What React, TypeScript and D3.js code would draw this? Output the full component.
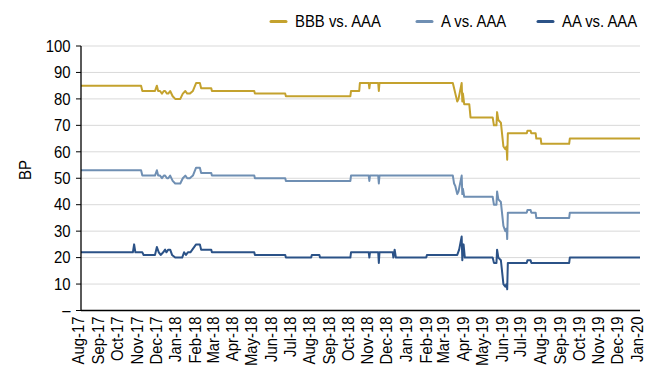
import React from "react";
import * as d3 from "d3";

const monthLabels = ["Aug-17","Sep-17","Oct-17","Nov-17","Dec-17","Jan-18","Feb-18","Mar-18","Apr-18","May-18","Jun-18","Jul-18","Aug-18","Sep-18","Oct-18","Nov-18","Dec-18","Jan-19","Feb-19","Mar-19","Apr-19","May-19","Jun-19","Jul-19","Aug-19","Sep-19","Oct-19","Nov-19","Dec-19","Jan-20"];
const monthStarts = ["2017-08-01","2017-09-01","2017-10-01","2017-11-01","2017-12-01","2018-01-01","2018-02-01","2018-03-01","2018-04-01","2018-05-01","2018-06-01","2018-07-01","2018-08-01","2018-09-01","2018-10-01","2018-11-01","2018-12-01","2019-01-01","2019-02-01","2019-03-01","2019-04-01","2019-05-01","2019-06-01","2019-07-01","2019-08-01","2019-09-01","2019-10-01","2019-11-01","2019-12-01","2020-01-01"];
const yTicks = [0,10,20,30,40,50,60,70,80,90,100];
const seriesNames = ["BBB vs. AAA","A vs. AAA","AA vs. AAA"];
const seriesColors = ["#C4A22E","#6F8FB3","#2B5287"];

const bbb: [string, number][] = [
["2017-08-01",85],["2017-11-04",85],["2017-11-06",83],["2017-11-26",83],["2017-11-29",85],["2017-12-01",83],["2017-12-04",83],["2017-12-07",82],["2017-12-10",83],["2017-12-12",83],["2017-12-15",82],["2017-12-17",82],["2017-12-20",83],["2017-12-24",81],["2017-12-28",80],["2018-01-05",80],["2018-01-09",82],["2018-01-13",83],["2018-01-16",82],["2018-01-20",82],["2018-01-25",83],["2018-01-30",86],["2018-02-05",86],["2018-02-07",84],["2018-02-23",84],["2018-02-24",83],["2018-05-02",83],["2018-05-03",82],["2018-06-20",82],["2018-06-21",81],["2018-10-01",81],["2018-10-02",83],["2018-10-15",83],["2018-10-16",86],["2018-10-30",86],["2018-10-31",84],["2018-11-01",86],["2018-11-14",86],["2018-11-15",83],["2018-11-16",86],["2019-03-12",86],["2019-03-14",84],["2019-03-16",82],["2019-03-19",79],["2019-03-21",80],["2019-03-26",86],["2019-03-27",79],["2019-03-28",82],["2019-03-30",78],["2019-04-07",78],["2019-04-09",73],["2019-05-14",73],["2019-05-16",70],["2019-05-20",70],["2019-05-21",75],["2019-05-23",72],["2019-05-27",71],["2019-05-31",62],["2019-06-03",61],["2019-06-05",62],["2019-06-06",57],["2019-06-07",67],["2019-07-07",67],["2019-07-08",68],["2019-07-13",68],["2019-07-14",67],["2019-07-21",67],["2019-07-22",65],["2019-07-29",65],["2019-07-30",63],["2019-09-12",63],["2019-09-13",65],["2020-01-02",65]
];

const aSeries: [string, number][] = [
["2017-08-01",53],["2017-11-04",53],["2017-11-06",51],["2017-11-26",51],["2017-11-29",53],["2017-12-01",51],["2017-12-04",51],["2017-12-07",50],["2017-12-10",51],["2017-12-12",51],["2017-12-15",50],["2017-12-17",50],["2017-12-20",51],["2017-12-24",49],["2017-12-28",48],["2018-01-05",48],["2018-01-09",50],["2018-01-13",51],["2018-01-16",50],["2018-01-20",50],["2018-01-25",51],["2018-01-30",54],["2018-02-05",54],["2018-02-07",52],["2018-02-23",52],["2018-02-24",51],["2018-05-02",51],["2018-05-03",50],["2018-06-20",50],["2018-06-21",49],["2018-10-01",49],["2018-10-02",51],["2018-10-30",51],["2018-10-31",49],["2018-11-01",51],["2018-11-14",51],["2018-11-15",48],["2018-11-16",51],["2019-03-12",51],["2019-03-14",48],["2019-03-16",47],["2019-03-19",44],["2019-03-21",45],["2019-03-26",51],["2019-03-27",44],["2019-03-28",46],["2019-03-30",43],["2019-05-14",43],["2019-05-16",40],["2019-05-20",40],["2019-05-21",45],["2019-05-23",42],["2019-05-27",41],["2019-05-31",32],["2019-06-03",30],["2019-06-05",31],["2019-06-06",27],["2019-06-07",37],["2019-07-07",37],["2019-07-08",38],["2019-07-13",38],["2019-07-14",37],["2019-07-21",37],["2019-07-22",35],["2019-09-12",35],["2019-09-13",37],["2020-01-02",37]
];

const aaSeries: [string, number][] = [
["2017-08-01",22],["2017-10-22",22],["2017-10-24",25],["2017-10-26",22],["2017-11-06",22],["2017-11-08",21],["2017-11-26",21],["2017-11-29",24],["2017-12-02",22],["2017-12-05",21],["2017-12-09",22],["2017-12-12",23],["2017-12-14",22],["2017-12-17",23],["2017-12-20",23],["2017-12-23",21],["2017-12-28",20],["2018-01-08",20],["2018-01-11",22],["2018-01-14",21],["2018-01-17",22],["2018-01-21",22],["2018-01-30",25],["2018-02-05",25],["2018-02-07",23],["2018-02-23",23],["2018-02-24",22],["2018-05-02",22],["2018-05-03",21],["2018-06-20",21],["2018-06-21",20],["2018-07-31",20],["2018-08-01",21],["2018-08-13",21],["2018-08-14",20],["2018-10-01",20],["2018-10-02",22],["2018-10-30",22],["2018-10-31",20],["2018-11-01",22],["2018-11-14",22],["2018-11-15",18],["2018-11-16",22],["2018-12-07",22],["2018-12-08",20],["2018-12-10",23],["2018-12-12",20],["2019-01-29",20],["2019-01-30",21],["2019-03-19",21],["2019-03-22",23],["2019-03-26",28],["2019-03-27",19],["2019-03-29",25],["2019-03-31",20],["2019-05-14",20],["2019-05-16",18],["2019-05-20",18],["2019-05-21",23],["2019-05-23",20],["2019-05-27",19],["2019-05-31",10],["2019-06-03",9],["2019-06-05",10],["2019-06-06",8],["2019-06-07",18],["2019-07-07",18],["2019-07-08",19],["2019-07-13",19],["2019-07-14",18],["2019-09-12",18],["2019-09-13",20],["2020-01-02",20]
];

const allSeries = [bbb, aSeries, aaSeries];

const FONT = "'Liberation Sans', Arial, Helvetica, sans-serif";
const FS = 16;
const SX = 0.93;

export default function App() {
  const parse = d3.timeParse("%Y-%m-%d");
  const left = 81, right = 640, top = 46, bottom = 310.5;
  const x = d3.scaleTime().domain([parse("2017-08-01")!, parse("2020-01-02")!]).range([left, right]);
  const y = d3.scaleLinear().domain([0, 100]).range([bottom, top]);
  const line = d3.line<[string, number]>()
    .x((d) => x(parse(d[0])!))
    .y((d) => y(d[1]));

  const legendX = [271, 417, 538];

  return (
    <svg width={657} height={367} style={{ position: "absolute", left: 0, top: 0, background: "#fff" }} fontFamily={FONT}>
      {yTicks.filter((t) => t > 0).map((t) => (
        <line key={"g" + t} x1={left} x2={right} y1={y(t)} y2={y(t)} stroke="#d9d9d9" strokeWidth={1} />
      ))}
      {yTicks.map((t) => (
        <g key={"t" + t}>
          <line x1={left - 5} x2={left} y1={y(t)} y2={y(t)} stroke="#000" strokeWidth={1} />
          <text transform={`translate(70.5,${y(t)}) scale(${SX},1)`} dy="0.36em" textAnchor="end" fontSize={FS} fill="#000">
            {t === 0 ? "–" : String(t)}
          </text>
        </g>
      ))}
      <text transform={`translate(25,170) rotate(-90) scale(${SX},1)`} textAnchor="middle" dy="0.36em" fontSize={FS} fill="#000">BP</text>
      {allSeries.map((s, i) => (
        <path key={"s" + i} d={line(s) || ""} fill="none" stroke={seriesColors[i]} strokeWidth={2} strokeLinejoin="round" />
      ))}
      <line x1={left} x2={left} y1={top} y2={bottom + 0.5} stroke="#000" strokeWidth={1.3} />
      <line x1={left} x2={right} y1={bottom} y2={bottom} stroke="#000" strokeWidth={1.3} />
      {monthLabels.map((m, i) => (
        <text key={m} transform={`translate(${x(parse(monthStarts[i])!) - 2.3},316.5) rotate(-90) scale(${SX},1)`} textAnchor="end" dy="0.36em" fontSize={FS} fill="#000">
          {m}
        </text>
      ))}
      {seriesNames.map((n, i) => (
        <g key={n}>
          <line x1={legendX[i]} x2={legendX[i] + 15} y1={21.5} y2={21.5} stroke={seriesColors[i]} strokeWidth={3} strokeLinecap="round" />
          <text transform={`translate(${legendX[i] + 24},21.5) scale(${SX},1)`} dy="0.36em" fontSize={FS} fill="#000">{n}</text>
        </g>
      ))}
    </svg>
  );
}
